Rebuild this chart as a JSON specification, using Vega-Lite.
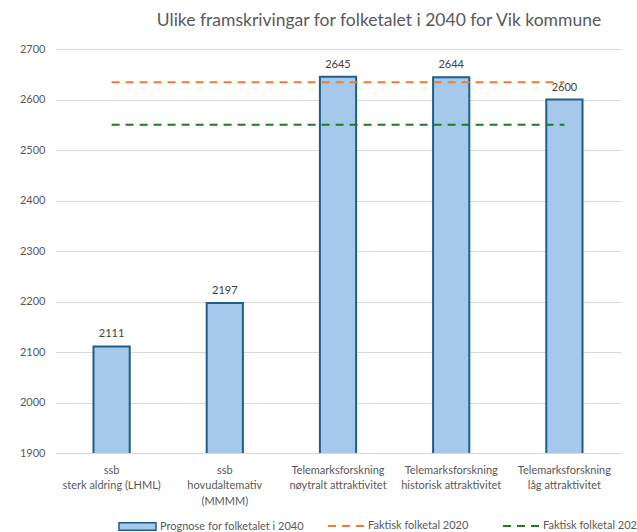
{
  "$schema": "https://vega.github.io/schema/vega-lite/v6.json",
  "width": 582,
  "height": 404,
  "autosize": {"type": "none"},
  "padding": {"left": 55, "top": 49, "right": 0, "bottom": 79},
  "background": "white",
  "config": {
    "font": "Lato",
    "view": {"stroke": null},
    "axis": {"labelColor": "#595959", "labelFont": "Lato", "labelFontSize": 11}
  },
  "title": {
    "text": "Ulike framskrivingar for folketalet i 2040 for Vik kommune",
    "font": "Lato",
    "fontSize": 17.5,
    "fontWeight": "normal",
    "color": "#595959",
    "anchor": "middle",
    "dx": 33,
    "offset": 14
  },
  "layer": [
    {
      "data": {
        "values": [
          {"kategori": "ssb|sterk aldring (LHML)", "verdi": 2111, "serie": "Prognose for folketalet i 2040"},
          {"kategori": "ssb|hovudaltemativ|(MMMM)", "verdi": 2197, "serie": "Prognose for folketalet i 2040"},
          {"kategori": "Telemarksforskning|nøytralt attraktivitet", "verdi": 2645, "serie": "Prognose for folketalet i 2040"},
          {"kategori": "Telemarksforskning|historisk attraktivitet", "verdi": 2644, "serie": "Prognose for folketalet i 2040"},
          {"kategori": "Telemarksforskning|låg attraktivitet", "verdi": 2600, "serie": "Prognose for folketalet i 2040"}
        ]
      },
      "layer": [
        {
          "mark": {"type": "bar", "stroke": "#1d5f8a", "strokeWidth": 2, "clip": true},
          "encoding": {
            "x": {
              "field": "kategori",
              "type": "nominal",
              "scale": {
                "domain": ["ssb|sterk aldring (LHML)", "ssb|hovudaltemativ|(MMMM)", "Telemarksforskning|nøytralt attraktivitet", "Telemarksforskning|historisk attraktivitet", "Telemarksforskning|låg attraktivitet"],
                "range": [0, 566],
                "paddingInner": 0.68,
                "paddingOuter": 0.34
              },
              "axis": {
                "title": null,
                "labelAngle": 0,
                "ticks": false,
                "domain": false,
                "labelPadding": 11,
                "labelExpr": "split(datum.label, '|')",
                "labelLineHeight": 15.5,
                "labelBaseline": "top"
              }
            },
            "y": {
              "field": "verdi",
              "type": "quantitative",
              "scale": {"domain": [1900, 2700], "nice": false, "zero": false},
              "axis": {
                "title": null,
                "values": [1900, 2000, 2100, 2200, 2300, 2400, 2500, 2600, 2700],
                "format": "d",
                "ticks": false,
                "domain": false,
                "gridColor": "#d9d9d9",
                "gridWidth": 1,
                "labelPadding": 10
              }
            },
            "fill": {
              "field": "serie",
              "type": "nominal",
              "scale": {"range": ["#a6c9eb"]},
              "legend": {
                "title": null,
                "orient": "none",
                "legendX": 63,
                "legendY": 458,
                "symbolType": "M-1,-0.2H1V0.2H-1Z",
                "symbolSize": 1369,
                "symbolStrokeColor": "#1d5f8a",
                "symbolStrokeWidth": 1.5,
                "symbolOpacity": 1,
                "labelFontSize": 11,
                "labelColor": "#595959",
                "labelFont": "Lato",
                "labelOffset": 3
              }
            }
          }
        },
        {
          "mark": {"type": "text", "baseline": "alphabetic", "dy": -9, "fontSize": 11, "color": "#404040", "font": "Lato"},
          "encoding": {
            "x": {"field": "kategori", "type": "nominal"},
            "y": {"field": "verdi", "type": "quantitative"},
            "text": {"field": "verdi", "type": "quantitative", "format": "d"}
          }
        }
      ]
    },
    {
      "data": {
        "values": [
          {"kategori": "ssb|sterk aldring (LHML)", "verdi": 2634, "linje": "Faktisk folketal 2020"},
          {"kategori": "ssb|hovudaltemativ|(MMMM)", "verdi": 2634, "linje": "Faktisk folketal 2020"},
          {"kategori": "Telemarksforskning|nøytralt attraktivitet", "verdi": 2634, "linje": "Faktisk folketal 2020"},
          {"kategori": "Telemarksforskning|historisk attraktivitet", "verdi": 2634, "linje": "Faktisk folketal 2020"},
          {"kategori": "Telemarksforskning|låg attraktivitet", "verdi": 2634, "linje": "Faktisk folketal 2020"},
          {"kategori": "ssb|sterk aldring (LHML)", "verdi": 2550, "linje": "Faktisk folketal 2024"},
          {"kategori": "ssb|hovudaltemativ|(MMMM)", "verdi": 2550, "linje": "Faktisk folketal 2024"},
          {"kategori": "Telemarksforskning|nøytralt attraktivitet", "verdi": 2550, "linje": "Faktisk folketal 2024"},
          {"kategori": "Telemarksforskning|historisk attraktivitet", "verdi": 2550, "linje": "Faktisk folketal 2024"},
          {"kategori": "Telemarksforskning|låg attraktivitet", "verdi": 2550, "linje": "Faktisk folketal 2024"}
        ]
      },
      "mark": {"type": "line", "strokeWidth": 2, "strokeDash": [8, 6]},
      "encoding": {
        "x": {"field": "kategori", "type": "nominal"},
        "y": {"field": "verdi", "type": "quantitative"},
        "stroke": {
          "field": "linje",
          "type": "nominal",
          "scale": {"domain": ["Faktisk folketal 2020", "Faktisk folketal 2024"], "range": ["#ed7d31", "#1f7a24"]},
          "legend": {
            "title": null,
            "orient": "none",
            "direction": "horizontal",
            "legendX": 272,
            "legendY": 458,
            "symbolType": "stroke",
            "symbolSize": 1296,
            "symbolDash": [8, 6],
            "symbolStrokeWidth": 2,
            "labelFontSize": 11,
            "labelColor": "#595959",
            "labelFont": "Lato",
            "labelOffset": 3,
            "columnPadding": 30
          }
        }
      }
    }
  ]
}
